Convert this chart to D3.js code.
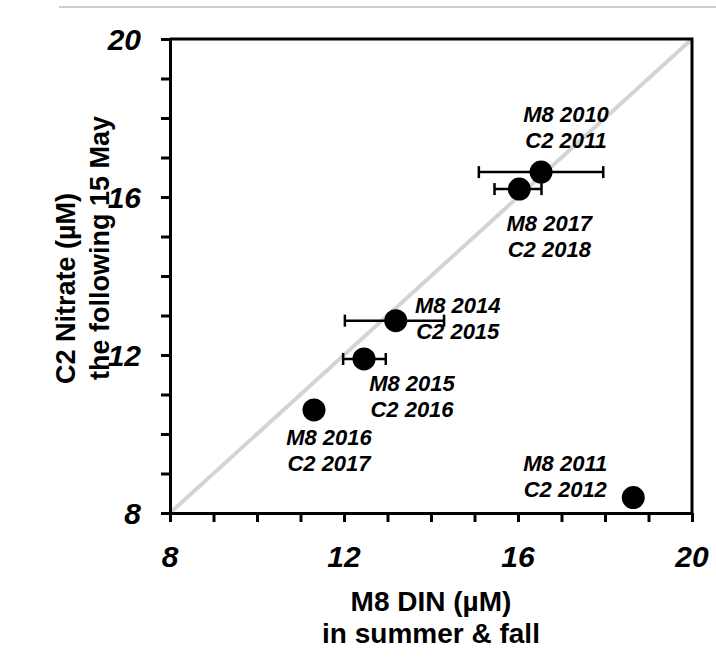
<!DOCTYPE html>
<html>
<head>
<meta charset="utf-8">
<script src="https://cdn.jsdelivr.net/npm/d3@7"></script>
<style>
  body { margin: 0; background: #fff; }
  svg { display: block; font-family: "Liberation Sans", Arial, sans-serif; }
</style>
</head>
<body>
<div id="chart"></div>
<script>
// M8 DIN in summer & fall (x) vs C2 nitrate the following 15 May (y)
var stationLabels = [["M8 2010", "C2 2011"], ["M8 2017", "C2 2018"], ["M8 2014", "C2 2015"],
                     ["M8 2015", "C2 2016"], ["M8 2016", "C2 2017"], ["M8 2011", "C2 2012"]];
var m8Din = [16.53, 16.03, 13.19, 12.46, 11.31, 18.65];
var c2Nitrate = [16.63, 16.20, 12.87, 11.90, 10.61, 8.39];
var m8DinLow = [15.10, 15.46, 12.02, 11.98, null, null];
var m8DinHigh = [17.96, 16.54, 14.30, 12.96, null, null];
var tickLabels = [8, 12, 16, 20];
var minorTicks = d3.range(8, 21, 1);

// label offsets in pixels from each point (center x, first baseline)
var labelOffsets = [[25, -50], [30, 42], [62, -8], [48, 32], [15, 35], [-68, -27]];

var width = 716, height = 660;
var margin = { top: 39, right: 24, bottom: 147, left: 170 };
var innerWidth = width - margin.left - margin.right,
    innerHeight = height - margin.top - margin.bottom;

var svg = d3.select("#chart").append("svg")
    .attr("width", width)
    .attr("height", height);

// thin grey rule along the top of the figure
svg.append("line")
    .attr("x1", 59).attr("x2", width)
    .attr("y1", 7).attr("y2", 7)
    .attr("stroke", "#bdbdbd").attr("stroke-width", 1.5);

var g = svg.append("g")
    .attr("transform", "translate(" + margin.left + "," + margin.top + ")");

var x = d3.scaleLinear().domain([8, 20]).range([0, innerWidth]);
var y = d3.scaleLinear().domain([8, 20]).range([innerHeight, 0]);

// 1:1 line
g.append("line")
    .attr("x1", x(8)).attr("y1", y(8))
    .attr("x2", x(20)).attr("y2", y(20))
    .attr("stroke", "#d4d4d4").attr("stroke-width", 4);

// frame (top and right)
g.append("path")
    .attr("d", "M" + x(8) + "," + y(20) + "H" + x(20) + "V" + y(8))
    .attr("fill", "none").attr("stroke", "#000").attr("stroke-width", 3);

// axes
var xAxis = g.append("g")
    .attr("transform", "translate(0," + innerHeight + ")")
    .call(d3.axisBottom(x).tickValues(minorTicks).tickSize(9).tickSizeOuter(0).tickFormat(""));
var yAxis = g.append("g")
    .call(d3.axisLeft(y).tickValues(minorTicks).tickSize(9).tickSizeOuter(0).tickFormat(""));

[xAxis, yAxis].forEach(function(a) {
    a.selectAll("path, line").attr("stroke", "#000").attr("stroke-width", 3);
});

// tick labels
g.selectAll(".xlab")
    .data(tickLabels)
    .enter().append("text")
    .attr("class", "xlab")
    .attr("x", d => x(d))
    .attr("y", innerHeight + 54)
    .attr("text-anchor", "middle")
    .style("font-size", "30px").style("font-weight", "bold").style("font-style", "italic")
    .text(d => d);

g.selectAll(".ylab")
    .data(tickLabels)
    .enter().append("text")
    .attr("class", "ylab")
    .attr("x", -29)
    .attr("y", d => y(d))
    .attr("dy", "0.36em")
    .attr("text-anchor", "end")
    .style("font-size", "30px").style("font-weight", "bold").style("font-style", "italic")
    .text(d => d);

// error bars
var points = m8Din.map(function(v, i) {
    return { x: v, y: c2Nitrate[i], lo: m8DinLow[i], hi: m8DinHigh[i], label: stationLabels[i], off: labelOffsets[i] };
});

var bars = g.selectAll(".err")
    .data(points.filter(d => d.lo !== null))
    .enter().append("g")
    .attr("class", "err")
    .attr("stroke", "#000").attr("stroke-width", 2.5);

bars.append("line")
    .attr("x1", d => x(d.lo)).attr("x2", d => x(d.hi))
    .attr("y1", d => y(d.y)).attr("y2", d => y(d.y));
bars.append("line")
    .attr("x1", d => x(d.lo)).attr("x2", d => x(d.lo))
    .attr("y1", d => y(d.y) - 6).attr("y2", d => y(d.y) + 6);
bars.append("line")
    .attr("x1", d => x(d.hi)).attr("x2", d => x(d.hi))
    .attr("y1", d => y(d.y) - 6).attr("y2", d => y(d.y) + 6);

// points
g.selectAll(".dot")
    .data(points)
    .enter().append("circle")
    .attr("class", "dot")
    .attr("cx", d => x(d.x))
    .attr("cy", d => y(d.y))
    .attr("r", 11.5)
    .attr("fill", "#000");

// point labels
var labels = g.selectAll(".plab")
    .data(points)
    .enter().append("text")
    .attr("class", "plab")
    .attr("text-anchor", "middle")
    .style("font-size", "22px").style("font-weight", "bold").style("font-style", "italic")
    .attr("fill", "#000");

labels.selectAll("tspan")
    .data(d => d.label.map(function(t, k) { return { t: t, k: k, p: d }; }))
    .enter().append("tspan")
    .attr("x", d => x(d.p.x) + d.p.off[0])
    .attr("y", d => y(d.p.y) + d.p.off[1] + d.k * 26)
    .text(d => d.t);

// axis titles
var xTitle = svg.append("text")
    .attr("text-anchor", "middle")
    .style("font-size", "28px").style("font-weight", "bold");
xTitle.append("tspan").attr("x", margin.left + innerWidth / 2).attr("y", 611).text("M8 DIN (\u00B5M)");
xTitle.append("tspan").attr("x", margin.left + innerWidth / 2).attr("y", 643).text("in summer & fall");

var yTitle = svg.append("text")
    .attr("transform", "rotate(-90)")
    .attr("text-anchor", "start")
    .style("font-size", "27px").style("font-weight", "bold");
yTitle.append("tspan").attr("x", -384).attr("y", 75).text("C2 Nitrate (\u00B5M)");
yTitle.append("tspan").attr("x", -380).attr("y", 109).text("the following 15 May");
</script>
</body>
</html>
